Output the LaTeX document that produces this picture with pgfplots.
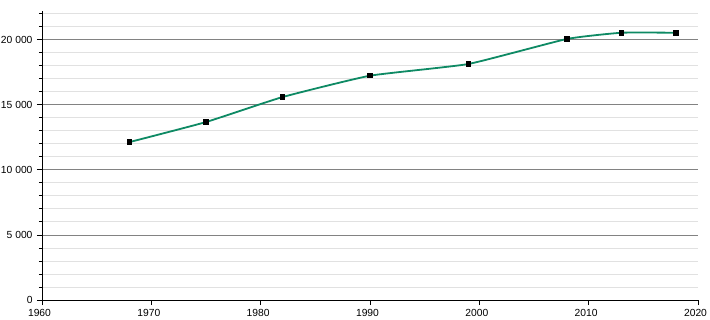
\documentclass[border=0pt]{standalone}
\usepackage{fontspec}
\setmainfont{Liberation Sans}
\usepackage{pgfplots}
\pgfplotsset{compat=1.18}
\definecolor{linegreen}{RGB}{14,138,100}
\definecolor{majgrid}{RGB}{130,130,130}
\definecolor{mingrid}{RGB}{225,225,225}
\begin{document}
\begin{tikzpicture}
\useasboundingbox (-42bp,-20bp) rectangle (668bp,300bp);
\begin{axis}[
  scale only axis,
  width=656bp, height=289bp,
  xmin=1960, xmax=2020, ymin=0, ymax=22200,
  axis x line*=bottom, axis y line*=left,
  axis line style={black, line width=0.8bp, -},
  xtick={1960,1970,...,2020},
  ytick={0,5000,...,20000},
  minor ytick={1000,2000,...,22000},
  tick align=outside,
  major tick length=5bp, minor tick length=3bp,
  tick style={black, line width=0.8bp},
  ymajorgrids, yminorgrids,
  major grid style={majgrid, line width=0.8bp},
  minor grid style={mingrid, line width=0.8bp},
  /pgf/number format/assume math mode=true,
  tick label style={font=\fontsize{10.3bp}{12bp}\selectfont},
  xticklabel style={/pgf/number format/1000 sep={}, yshift=-1bp, xshift=-2.5bp},
  yticklabel style={/pgf/number format/1000 sep={\ }, xshift=-1bp},
  scaled y ticks=false,
  clip=false,
]
\addplot[linegreen, line width=1.8bp, smooth, tension=0.25,
  mark=square*, mark size=2.3bp,
  mark options={black, fill=black, line width=0pt}]
  coordinates {
  (1968,12130) (1975,13670) (1982,15590) (1990,17230)
  (1999,18130) (2008,20050) (2013,20530) (2018,20530)
  };
\end{axis}
\end{tikzpicture}
\end{document}
